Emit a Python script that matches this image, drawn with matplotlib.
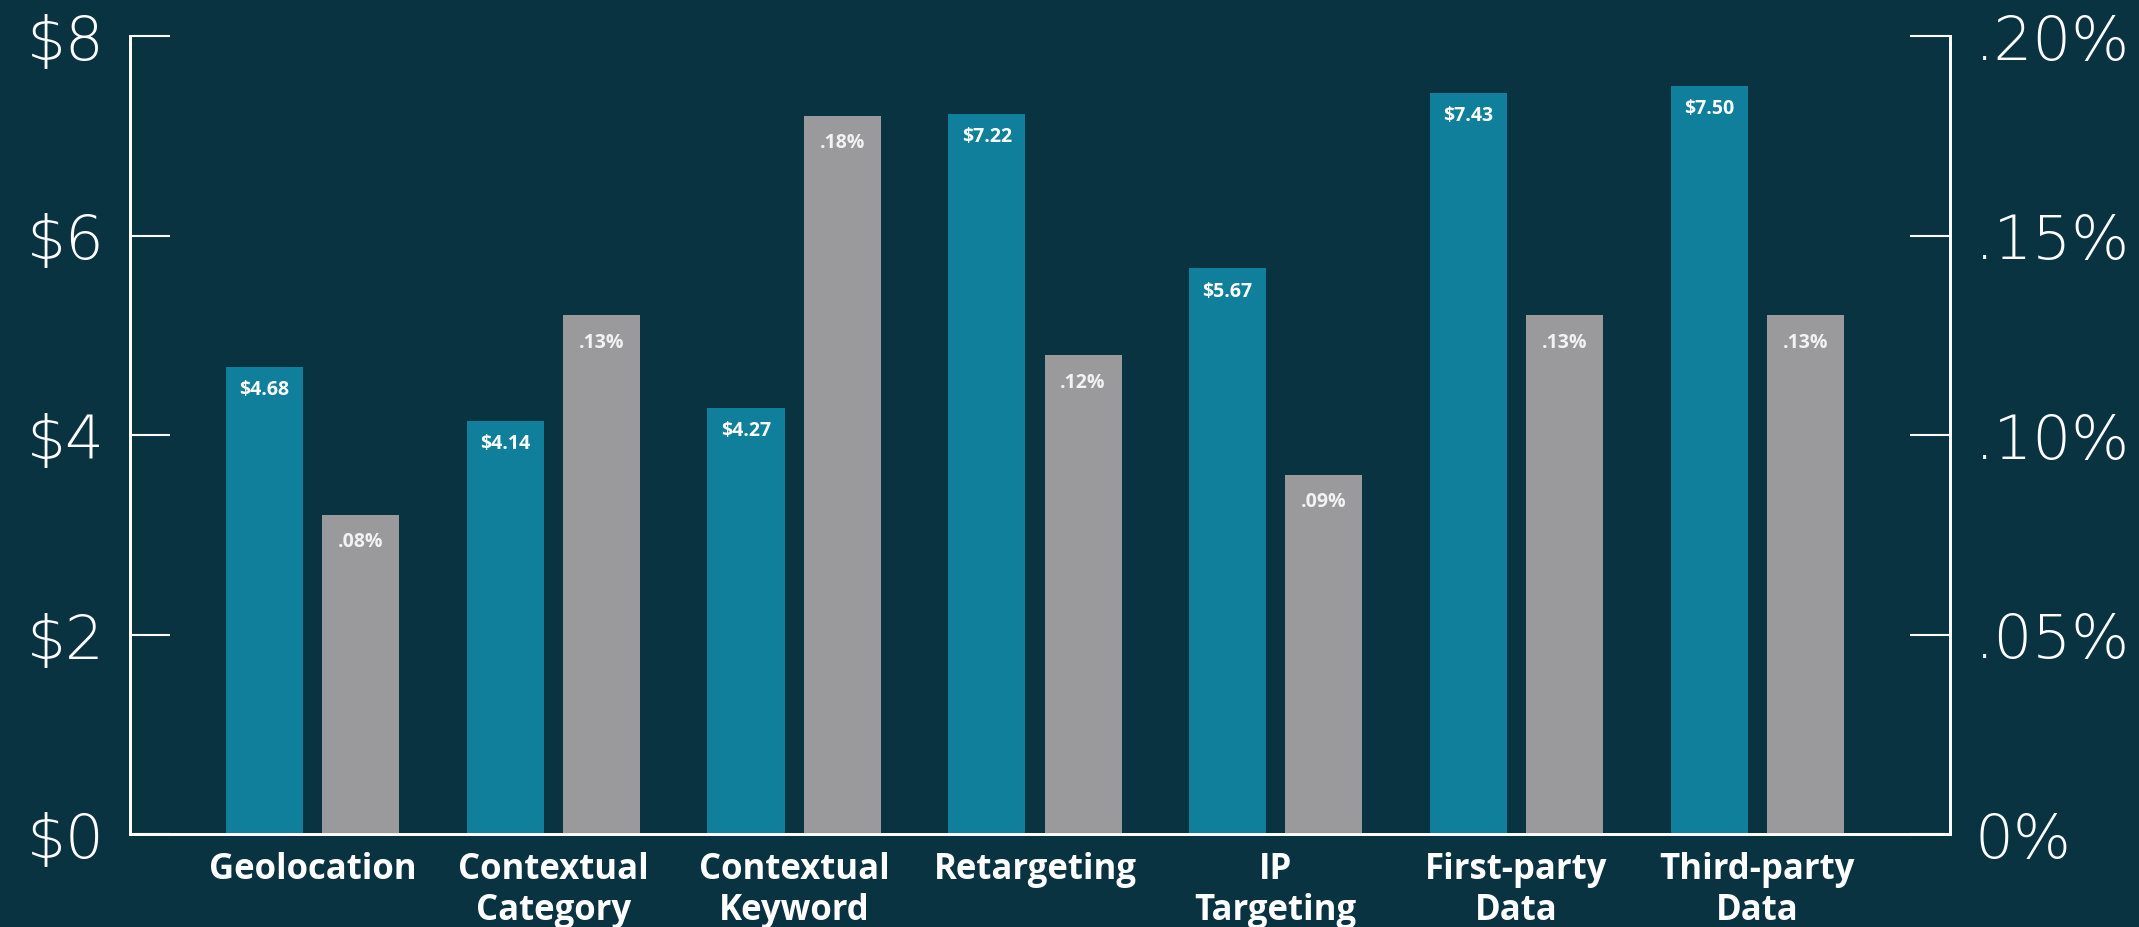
import matplotlib.pyplot as plt
import numpy as np

# targeting methods with average CPM ($) and CTR (%)
categories = ["Geolocation", "Contextual\nCategory", "Contextual\nKeyword", "Retargeting",
              "IP\nTargeting", "First-party\nData", "Third-party\nData"]
cpm = [4.68, 4.14, 4.27, 7.22, 5.67, 7.43, 7.50]
ctr = [0.08, 0.13, 0.18, 0.12, 0.09, 0.13, 0.13]
cpm_labels = ["$4.68", "$4.14", "$4.27", "$7.22", "$5.67", "$7.43", "$7.50"]
ctr_labels = [".08%", ".13%", ".18%", ".12%", ".09%", ".13%", ".13%"]
left_ticks = [0, 2, 4, 6, 8]
left_ticklabels = ["$0", "$2", "$4", "$6", "$8"]
right_ticks = [0, 0.05, 0.10, 0.15, 0.20]
right_ticklabels = ["0%", ".05%", ".10%", ".15%", ".20%"]

bg = "#0A3342"
teal = "#0F7F9C"
grey = "#9A9A9C"

plt.rcParams["font.family"] = ["Open Sans", "DejaVu Sans"]
tick_font = dict(family=["DejaVu Sans"], weight="light", size=44)

fig = plt.figure(figsize=(21.39, 9.28), dpi=100, facecolor=bg)
ax = fig.add_axes([130 / 2139, 93 / 928, 1820 / 2139, 798 / 928])
ax.set_facecolor(bg)
ax2 = ax.twinx()

x = np.arange(len(categories))
w = 0.32
b1 = ax.bar(x - 0.2, cpm, w, color=teal, zorder=2)
b2 = ax2.bar(x + 0.2, ctr, w, color=grey, zorder=2)

ax.set_xlim(-0.758, 6.80)
ax.set_ylim(0, 8)
ax2.set_ylim(0, 0.20)

for rect, lab in zip(b1, cpm_labels):
    ax.annotate(lab, (rect.get_x() + rect.get_width() / 2, rect.get_height()),
                xytext=(0, -16), textcoords="offset points", ha="center", va="center",
                color="white", fontsize=14, fontweight="bold")
for rect, lab in zip(b2, ctr_labels):
    ax2.annotate(lab, (rect.get_x() + rect.get_width() / 2, rect.get_height()),
                 xytext=(0, -19), textcoords="offset points", ha="center", va="center",
                 color="#F2F2F2", fontsize=14, fontweight="bold")

ax.set_yticks(left_ticks)
ax.set_yticklabels(left_ticklabels, fontdict=tick_font, color="white")
ax2.set_yticks(right_ticks)
ax2.set_yticklabels(right_ticklabels, fontdict=tick_font, color="white")
ax.tick_params(axis="y", direction="in", length=29, width=1.5, color="white", pad=18)
ax2.tick_params(axis="y", direction="in", length=29, width=1.5, color="white", pad=18)

ax.set_xticks(x)
ax.set_xticklabels(categories, fontsize=25, fontweight="bold", color="white", linespacing=1.2)
ax.tick_params(axis="x", length=0, pad=12)

for a in (ax, ax2):
    a.spines["top"].set_visible(False)
    for s in ("left", "right", "bottom"):
        a.spines[s].set_color("white")
        a.spines[s].set_linewidth(2)

fig.savefig("out.png", dpi=100, facecolor=bg)
